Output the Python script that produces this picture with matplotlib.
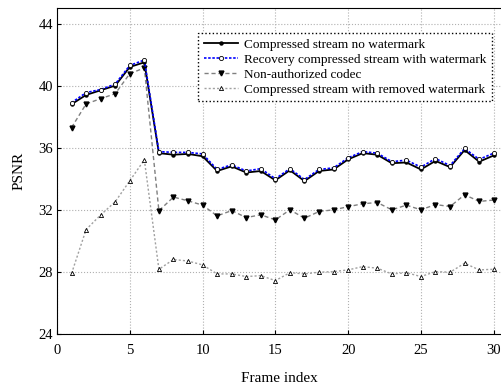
import numpy as np
import matplotlib
matplotlib.use("Agg")
import matplotlib.pyplot as plt

plt.rcParams['font.family'] = ['Liberation Serif', 'DejaVu Serif']

frames = np.arange(1, 31)

no_watermark = [38.8, 39.4, 39.7, 40.0, 41.2, 41.5, 35.65, 35.55, 35.6, 35.45,
                34.5, 34.8, 34.4, 34.5, 33.9, 34.55, 33.85, 34.5, 34.6, 35.25,
                35.65, 35.55, 35.0, 35.05, 34.6, 35.15, 34.75, 35.85, 35.1, 35.5]
recovery = [38.9, 39.55, 39.75, 40.1, 41.3, 41.65, 35.75, 35.7, 35.7, 35.6,
            34.6, 34.9, 34.5, 34.65, 34.0, 34.65, 33.95, 34.6, 34.7, 35.35,
            35.75, 35.65, 35.1, 35.2, 34.75, 35.3, 34.85, 35.95, 35.25, 35.65]
non_authorized = [37.3, 38.82, 39.16, 39.48, 40.77, 41.14, 31.94, 32.82, 32.58, 32.3,
                  31.61, 31.95, 31.5, 31.68, 31.35, 32.0, 31.46, 31.89, 32.0, 32.2,
                  32.39, 32.47, 32.0, 32.3, 32.0, 32.34, 32.21, 32.97, 32.54, 32.63]
removed = [27.9, 30.73, 31.67, 32.52, 33.87, 35.22, 28.17, 28.8, 28.7, 28.45,
           27.87, 27.87, 27.7, 27.76, 27.44, 27.95, 27.87, 27.98, 28.02, 28.13,
           28.34, 28.24, 27.87, 27.95, 27.7, 28.02, 27.98, 28.56, 28.13, 28.17]

labels = ["Compressed stream no watermark",
          "Recovery compressed stream with watermark",
          "Non-authorized codec",
          "Compressed stream with removed watermark"]

fig = plt.figure(figsize=(5.01, 3.84), dpi=100)
ax = fig.add_axes([57 / 501, 50 / 384, 444 / 501, 326 / 384])

ax.plot(frames, removed, color="#a0a0a0", ls=(0, (1.5, 1.5)), lw=1.0,
        marker="^", ms=3, mfc="white", mec="black", mew=0.6, label=labels[3], zorder=2)
ax.plot(frames, non_authorized, color="#808080", ls=(0, (3, 2)), lw=1.0,
        marker="v", ms=3.5, mfc="black", mec="black", label=labels[2], zorder=3)
ax.plot(frames, no_watermark, color="black", ls="-", lw=1.3,
        marker="o", ms=2.2, mfc="black", mec="black", label=labels[0], zorder=4)
ax.plot(frames, recovery, color="blue", ls=(0, (1.5, 1)), lw=1.2,
        marker="o", ms=3, mfc="white", mec="black", mew=0.6, label=labels[1], zorder=5)

ax.set_xlim(0, 30.5)
ax.set_ylim(24, 45)
ax.set_xticks(np.arange(0, 31, 5))
ax.set_yticks(np.arange(24, 45, 4))
ax.grid(True, color="#b0b0b0", ls=":", lw=0.8)
ax.tick_params(direction="in", length=3, labelsize=10.5)
ax.tick_params(axis="x", pad=7)
ax.tick_params(axis="y", pad=3)
ax.spines["right"].set_visible(False)

ax.set_xlabel("Frame index", fontsize=11, labelpad=11)
ax.set_ylabel("PSNR", fontsize=11, labelpad=9)

handles, labs = ax.get_legend_handles_labels()
order = [2, 3, 1, 0]
leg = ax.legend([handles[i] for i in order], [labs[i] for i in order],
                loc="upper right", bbox_to_anchor=(0.98, 0.922), fontsize=9.5,
                fancybox=False, framealpha=1, edgecolor="black",
                handlelength=2.6, borderpad=0.4, labelspacing=0.2,
                handletextpad=0.5, borderaxespad=0)
leg.get_frame().set_linestyle(":")
leg.get_frame().set_linewidth(1.0)

fig.savefig("out.png", dpi=100)
